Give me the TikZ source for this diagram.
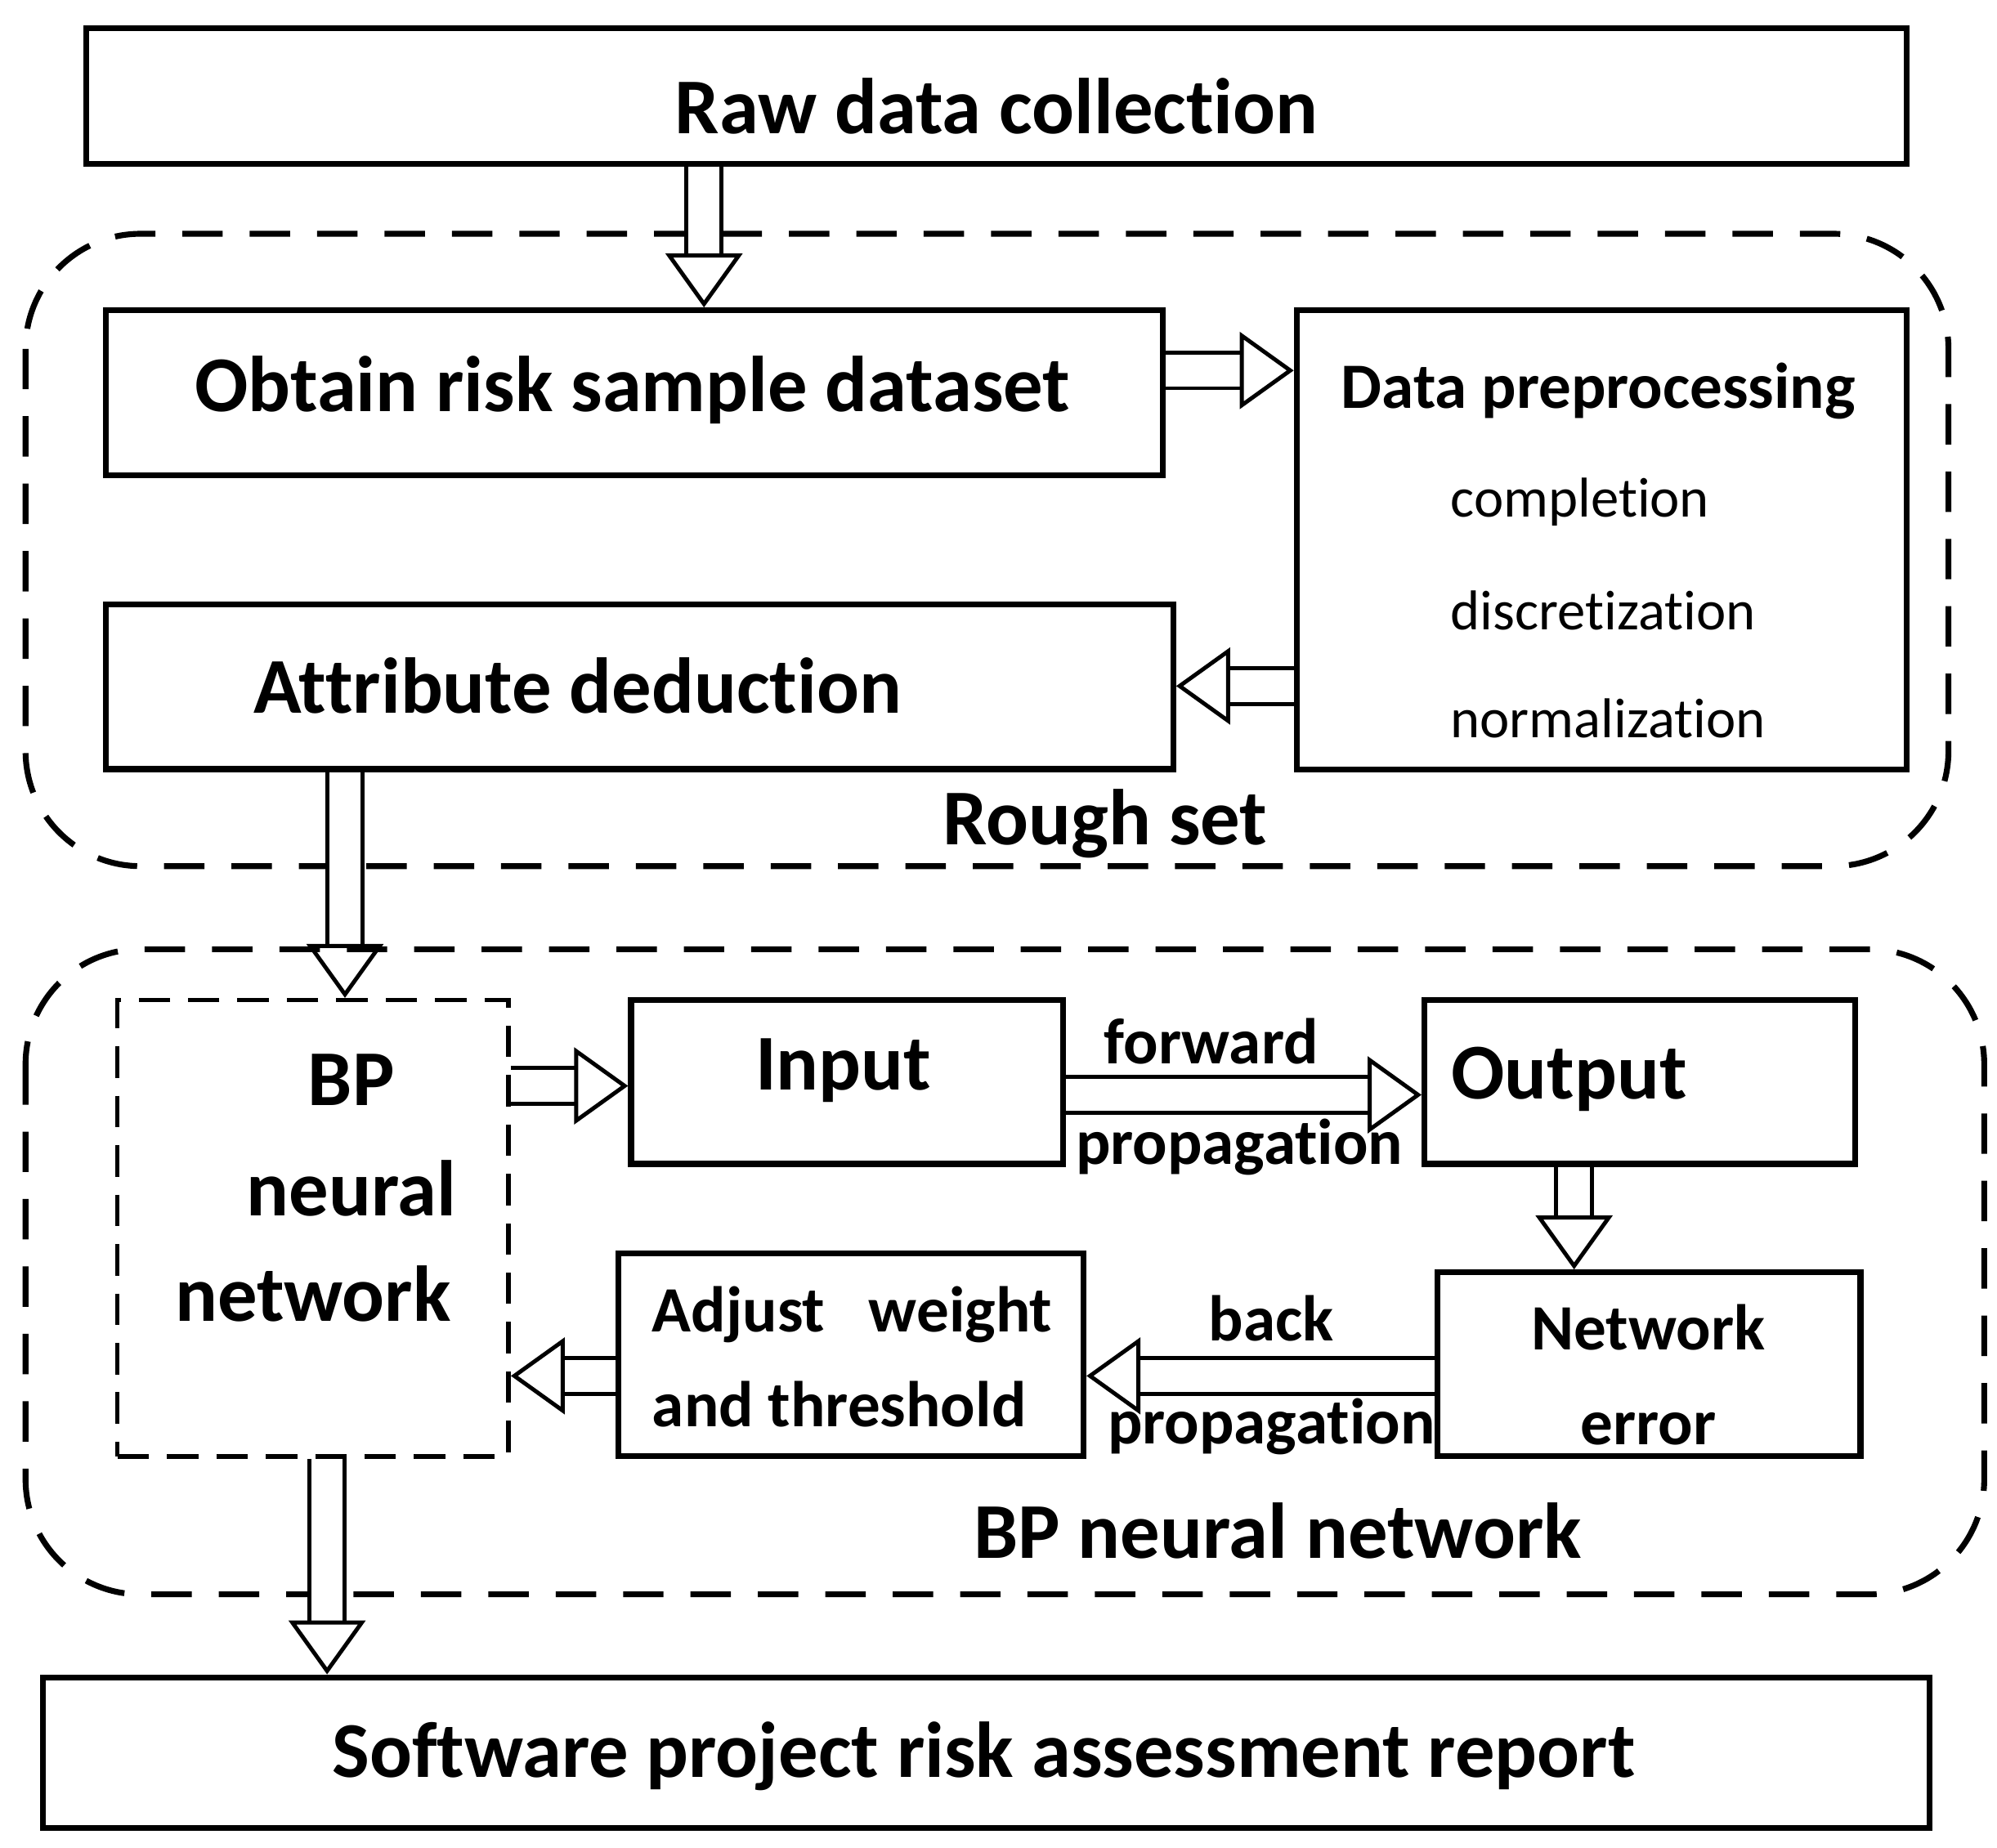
\documentclass[tikz,border=0pt]{standalone}
\usepackage{fontspec}
\setmainfont{Carlito}[Ligatures=NoCommon]
\usetikzlibrary{arrows.meta,positioning}
\tikzset{
  box/.style={draw, line width=1.3pt, rectangle, inner sep=0pt},
  group/.style={draw, line width=1.3pt, dash pattern=on 9pt off 6pt, rounded corners=0.9cm},
  hollow/.style={draw, line width=0.9pt, double, double distance=7pt,
    -{Triangle[open, length=12pt, width=17pt]}},
  big/.style={font=\fontsize{17.6}{21}\selectfont\bfseries},
  mid/.style={font=\fontsize{14.4}{17}\selectfont\bfseries},
  small/.style={font=\fontsize{12.5}{15}\selectfont},
}
\begin{document}
\begin{tikzpicture}[x=0.01cm, y=-0.01cm]
  \useasboundingbox (0,0) rectangle (1563,1446);
  % groups
  \draw[group] (20,183) rectangle (1525,678);
  \draw[group] (20,743) rectangle (1553,1248);
  \node[big] (roughlbl) at (865,645) {Rough set};
  \node[big] (bplbl) at (1000,1198) {BP neural network};

  % boxes
  \node[box, minimum width=14.24cm, minimum height=1.06cm] (raw) at (780,75) {};
  \node[big] at (780,83) {Raw data collection};
  \node[box, minimum width=8.27cm, minimum height=1.29cm] (obtain) at (496.5,307.5) {};
  \node[big] at (495,305) {Obtain risk sample dataset};
  \node[box, minimum width=4.77cm, minimum height=3.59cm] (prep) at (1253.5,422.5) {};
  \node[mid] at (1251,306) {Data preprocessing};
  \node[small, anchor=west] at (1123,393) {completion};
  \node[small, anchor=west] at (1123,478) {discretization};
  \node[small, anchor=west] at (1123,562) {normalization};
  \node[box, minimum width=8.35cm, minimum height=1.29cm] (attr) at (500.5,537.5) {};
  \node[big] at (452,537) {Attribute deduction};

  \node[box, dash pattern=on 7pt off 4pt, line width=1pt, minimum width=3.06cm, minimum height=3.57cm] (bp) at (245,961.5) {};
  \node[big] at (275,845) {BP};
  \node[big] at (275,930) {neural};
  \node[big] at (245,1013) {network};

  \node[box, minimum width=3.38cm, minimum height=1.28cm] (input) at (663,847) {};
  \node[big] at (660,838) {Input};
  \node[box, minimum width=3.37cm, minimum height=1.28cm] (output) at (1283.5,847) {};
  \node[big] at (1228,845) {Output};
  \node[box, minimum width=3.31cm, minimum height=1.44cm] (error) at (1290.5,1068) {};
  \node[mid, align=center] at (1290,1076) {Network\\[4pt]error};
  \node[box, minimum width=3.64cm, minimum height=1.59cm] (adjust) at (666,1060.5) {};
  \node[mid, align=left] at (667,1062) {Adjust\ \ \ weight\\[4pt]and threshold};
  \node[box, minimum width=14.76cm, minimum height=1.18cm] (soft) at (772,1372) {};
  \node[big] at (770,1375) {Software project risk assessment report};

  % arrows
  \draw[hollow] (raw.south -| 551,0) -- (obtain.north -| 551,0);
  \draw[hollow] (obtain.east |- 0,290) -- (prep.west |- 0,290);
  \draw[hollow] (prep.west |- 0,537) -- (attr.east |- 0,537);
  \draw[hollow] (attr.south -| 270,0) -- (bp.north -| 270,0);
  \draw[hollow] (bp.east |- 0,850) -- (input.west |- 0,850);
  \draw[hollow] (input.east |- 0,857) -- (output.west |- 0,857);
  \node[mid] at (948,815) {forward};
  \node[mid] at (970,898) {propagation};
  \draw[hollow] (output.south -| 1232,0) -- (error.north -| 1232,0);
  \draw[hollow] (error.west |- 0,1077) -- (adjust.east |- 0,1077);
  \node[mid] at (995,1032) {back};
  \node[mid] at (995,1117) {propagation};
  \draw[hollow] (adjust.west |- 0,1077) -- (bp.east |- 0,1077);
  \draw[hollow] (bp.south -| 256,0) -- (soft.north -| 256,0);
\end{tikzpicture}
\end{document}
